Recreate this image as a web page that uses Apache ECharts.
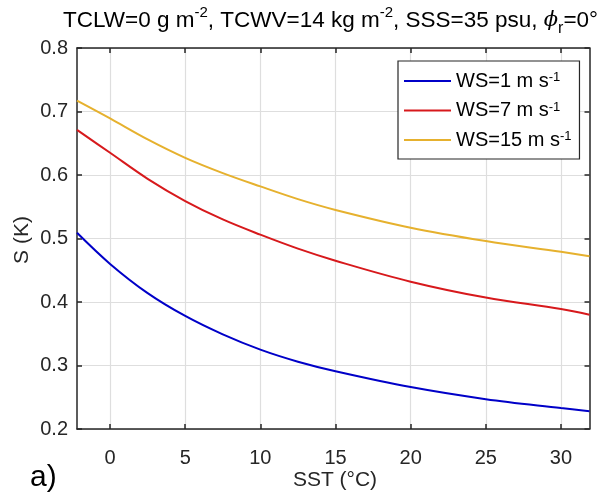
<!DOCTYPE html>
<html>
<head>
<meta charset="utf-8">
<script src="https://cdn.jsdelivr.net/npm/echarts@6/dist/echarts.min.js"></script>
<style>html,body{margin:0;padding:0;background:#fff}#c{width:601px;height:496px}</style>
</head>
<body>
<div id="c"></div>
<script>
const sst = [-2.2, 0, 2.5, 5, 7.5, 10, 12.5, 15, 20, 25, 30, 31.9];
const ws1 = [0.509, 0.460, 0.414, 0.378, 0.349, 0.325, 0.306, 0.291, 0.266, 0.247, 0.233, 0.228];
const ws7 = [0.671, 0.635, 0.594, 0.559, 0.530, 0.506, 0.484, 0.465, 0.432, 0.407, 0.389, 0.380];
const ws15 = [0.717, 0.689, 0.656, 0.627, 0.603, 0.582, 0.562, 0.545, 0.517, 0.496, 0.479, 0.472];
const xTicks = [0, 5, 10, 15, 20, 25, 30];
const seriesNames = ['WS=1 m s{sup|-1}', 'WS=7 m s{sup|-1}', 'WS=15 m s{sup|-1}'];
const legendNames = ['WS=1', 'WS=7', 'WS=15'];
const colors = ['#0000c8', '#d7191c', '#e6b12e'];

const FONT = 'Liberation Sans, Arial, sans-serif';
const axisColor = '#262626';
const chart = echarts.init(document.getElementById('c'));
function pair(xs, ys) { return xs.map((x, i) => [x, ys[i]]); }
const dataSets = [ws1, ws7, ws15];

const xBase = {
  type: 'value', min: -2.2, max: 31.9,
  axisLine: { show: true, onZero: false, lineStyle: { color: axisColor, width: 1.5 } },
  axisTick: { show: true, inside: true, length: 5, customValues: xTicks, lineStyle: { color: axisColor, width: 1.5 } },
  splitLine: { show: false }
};
const yBase = {
  type: 'value', min: 0.2, max: 0.8, interval: 0.1,
  axisLine: { show: true, onZero: false, lineStyle: { color: axisColor, width: 1.5 } },
  axisTick: { show: true, inside: true, length: 5, lineStyle: { color: axisColor, width: 1.5 } },
  splitLine: { show: false }
};

chart.setOption({
  animation: false,
  backgroundColor: '#fff',
  textStyle: { fontFamily: FONT },
  grid: { left: 77, right: 11.5, top: 48, bottom: 67 },
  title: {
    text: 'TCLW=0 g m{sup|-2}, TCWV=14 kg m{sup|-2}, SSS=35 psu, {phi|ϕ}{sub|r}=0°',
    left: 58, top: 0,
    textStyle: {
      fontFamily: FONT, fontSize: 22.5, fontWeight: 'normal', color: '#000', lineHeight: 32,
      rich: {
        sup: { fontFamily: FONT, fontSize: 15, color: '#000', verticalAlign: 'top', lineHeight: 18 },
        sub: { fontFamily: FONT, fontSize: 16, color: '#000', verticalAlign: 'bottom', lineHeight: 16 },
        phi: { fontFamily: 'DejaVu Serif, serif', fontStyle: 'italic', fontSize: 21, color: '#000', lineHeight: 32 }
      }
    }
  },
  legend: {
    left: 398, top: 61,
    orient: 'vertical',
    backgroundColor: '#fff',
    borderColor: '#262626', borderWidth: 1.2,
    padding: [10, 8, 9, 6],
    icon: 'rect',
    itemWidth: 47, itemHeight: 2, itemGap: 9.5,
    itemTextGap: 4,
    data: legendNames,
    formatter: function (n) { return seriesNames[legendNames.indexOf(n)]; },
    textStyle: {
      fontFamily: FONT, fontSize: 20, color: '#000', lineHeight: 20,
      rich: { sup: { fontFamily: FONT, fontSize: 13, color: '#000', verticalAlign: 'top', lineHeight: 8 } }
    }
  },
  xAxis: [
    Object.assign({}, xBase, {
      position: 'bottom',
      axisLabel: { show: true, customValues: xTicks, margin: 19, fontFamily: FONT, fontSize: 20, color: axisColor },
      splitLine: { show: true, lineStyle: { color: '#dedede', width: 1.2 } }
    }),
    Object.assign({}, xBase, { position: 'top', axisLabel: { show: false } })
  ],
  yAxis: [
    Object.assign({}, yBase, {
      position: 'left',
      axisLabel: { show: true, margin: 9, fontFamily: FONT, fontSize: 20, color: axisColor, formatter: v => v.toFixed(1) },
      splitLine: { show: true, lineStyle: { color: '#dedede', width: 1.2 } }
    }),
    Object.assign({}, yBase, { position: 'right', axisLabel: { show: false } })
  ],
  series: dataSets.map((d, i) => ({
    name: legendNames[i], type: 'line', data: pair(sst, d),
    smooth: 0.35, symbol: 'none', showSymbol: false,
    lineStyle: { color: colors[i], width: 2 }, itemStyle: { color: colors[i] },
    xAxisIndex: 0, yAxisIndex: 0, z: 3
  })),
  graphic: [
    { type: 'text', x: 22, y: 240, rotation: Math.PI / 2,
      style: { text: 'S (K)', font: '21px ' + FONT, fill: axisColor, align: 'center', verticalAlign: 'middle' } },
    { type: 'text', x: 335, y: 480,
      style: { text: 'SST (°C)', font: '21px ' + FONT, fill: axisColor, align: 'center', verticalAlign: 'middle' } },
    { type: 'text', x: 30, y: 478,
      style: { text: 'a)', font: '30px ' + FONT, fill: '#000', align: 'left', verticalAlign: 'middle' } }
  ]
});
</script>
</body>
</html>
